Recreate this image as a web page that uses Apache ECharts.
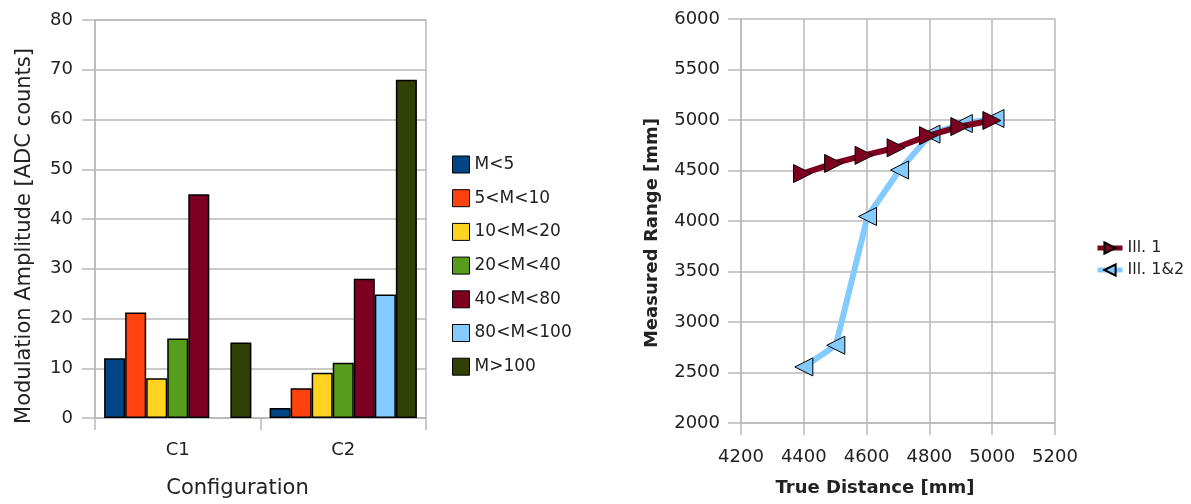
<!DOCTYPE html>
<html>
<head>
<meta charset="utf-8">
<script src="https://cdn.jsdelivr.net/npm/echarts@6/dist/echarts.min.js"></script>
<style>
html,body{margin:0;padding:0;background:#fff;}
#chart{width:1191px;height:504px;}
</style>
</head>
<body>
<div id="chart"></div>
<script>
// ---- Left chart data ----
const categories = ['C1', 'C2'];
const binNames = ['M<5', '5<M<10', '10<M<20', '20<M<40', '40<M<80', '80<M<100', 'M>100'];
const binColors = ['#004586', '#ff420e', '#ffd320', '#579d1c', '#7e0021', '#83caff', '#314004'];
const valsMlt5 = [12, 2];
const vals5to10 = [21.2, 6];
const vals10to20 = [8, 9.1];
const vals20to40 = [16, 11.1];
const vals40to80 = [45, 28];
const vals80to100 = [null, 24.8];
const valsMgt100 = [15.2, 68];
const binValues = [valsMlt5, vals5to10, vals10to20, vals20to40, vals40to80, vals80to100, valsMgt100];

// ---- Right chart data ----
const lineNames = ['Ill. 1', 'Ill. 1&2'];
const lineColors = ['#7e0021', '#83caff'];
const trueDistIll1 = [4396, 4495, 4592, 4694, 4797, 4897, 4999];
const measuredIll1 = [4470, 4570, 4650, 4725, 4845, 4935, 4995];
const trueDistIll12 = [4400, 4502, 4603, 4705, 4805, 4908, 5009];
const measuredIll12 = [2555, 2770, 4045, 4505, 4860, 4965, 5015];

const FONT = 'DejaVu Sans';
const gridColor = '#b9b9b9';
const textColor = '#222';
const plain = v => String(v);

const chart = echarts.init(document.getElementById('chart'), null, {renderer: 'canvas'});

const barSeries = binNames.map((name, i) => ({
  name: name,
  type: 'bar',
  xAxisIndex: 0,
  yAxisIndex: 0,
  barGap: '0%',
  barCategoryGap: '11%',
  itemStyle: {color: binColors[i], borderColor: '#000', borderWidth: 1.5},
  data: binValues[i]
}));

const zip = (xs, ys) => xs.map((x, i) => [x, ys[i]]);

const lineSeries = [
  {
    name: lineNames[0], type: 'line', xAxisIndex: 1, yAxisIndex: 1, z: 4,
    data: zip(trueDistIll1, measuredIll1),
    symbol: 'triangle', symbolSize: 18, symbolRotate: -90,
    lineStyle: {color: lineColors[0], width: 6},
    itemStyle: {color: lineColors[0], borderColor: '#000', borderWidth: 1},
    animation: false
  },
  {
    name: lineNames[1], type: 'line', xAxisIndex: 1, yAxisIndex: 1, z: 3,
    data: zip(trueDistIll12, measuredIll12),
    symbol: 'triangle', symbolSize: 18, symbolRotate: 90,
    lineStyle: {color: lineColors[1], width: 6},
    itemStyle: {color: lineColors[1], borderColor: '#000', borderWidth: 1},
    animation: false
  }
];

const option = {
  animation: false,
  backgroundColor: '#fff',
  textStyle: {fontFamily: FONT, color: textColor},
  grid: [
    {left: 95, right: 1191 - 426, top: 20, bottom: 504 - 418, show: true, borderColor: gridColor, borderWidth: 1.5},
    {left: 741, right: 1191 - 1055, top: 19, bottom: 504 - 423}
  ],
  legend: [
    {
      data: binNames, orient: 'vertical', left: 447, top: 150.5,
      itemWidth: 17, itemHeight: 17, itemGap: 15.7,
      icon: 'rect',
      itemStyle: {borderColor: '#000', borderWidth: 1},
      textStyle: {fontFamily: FONT, fontSize: 17, color: textColor, lineHeight: 17}
    },
    {
      data: lineNames, orient: 'vertical', left: 1090, top: 235,
      itemWidth: 25, itemHeight: 14, itemGap: 6,
      lineStyle: {width: 5},
      textStyle: {fontFamily: FONT, fontSize: 16, color: textColor, lineHeight: 16}
    }
  ],
  xAxis: [
    {
      type: 'category', gridIndex: 0, data: categories,
      axisLine: {show: true, lineStyle: {color: gridColor, width: 1.5}},
      axisTick: {show: true, length: 12, lineStyle: {color: gridColor, width: 1.5}},
      axisLabel: {fontFamily: FONT, fontSize: 18, color: textColor, margin: 23},
      splitLine: {show: false},
      name: 'Configuration', nameLocation: 'middle', nameGap: 60,
      nameTextStyle: {fontFamily: FONT, fontSize: 21, color: textColor, padding: [0, 46, 0, 0]}
    },
    {
      type: 'value', gridIndex: 1, min: 4200, max: 5200, interval: 200,
      axisLine: {show: true, lineStyle: {color: gridColor, width: 1.5}},
      axisTick: {show: true, length: 12, lineStyle: {color: gridColor, width: 1.5}},
      axisLabel: {fontFamily: FONT, fontSize: 18, color: textColor, margin: 25, formatter: plain},
      splitLine: {show: true, lineStyle: {color: gridColor, width: 1.5}},
      name: 'True Distance [mm]', nameLocation: 'middle', nameGap: 56,
      nameTextStyle: {fontFamily: FONT, fontSize: 18, fontWeight: 'bold', color: textColor, padding: [0, 46, 0, 0]}
    }
  ],
  yAxis: [
    {
      type: 'value', gridIndex: 0, min: 0, max: 80, interval: 10,
      axisLine: {show: true, lineStyle: {color: gridColor, width: 1.5}},
      axisTick: {show: true, length: 13, lineStyle: {color: gridColor, width: 1.5}},
      axisLabel: {fontFamily: FONT, fontSize: 18, color: textColor, margin: 22, formatter: plain},
      splitLine: {show: true, lineStyle: {color: gridColor, width: 1.5}},
      name: 'Modulation Amplitude [ADC counts]', nameLocation: 'middle', nameGap: 60, nameRotate: 90,
      nameTextStyle: {fontFamily: FONT, fontSize: 21, color: textColor, padding: [0, 34, 0, 0]}
    },
    {
      type: 'value', gridIndex: 1, min: 2000, max: 6000, interval: 500,
      axisLine: {show: true, lineStyle: {color: gridColor, width: 1.5}},
      axisTick: {show: true, length: 13, lineStyle: {color: gridColor, width: 1.5}},
      axisLabel: {fontFamily: FONT, fontSize: 18, color: textColor, margin: 21, formatter: plain},
      splitLine: {show: true, lineStyle: {color: gridColor, width: 1.5}},
      name: 'Measured Range [mm]', nameLocation: 'middle', nameGap: 80, nameRotate: 90,
      nameTextStyle: {fontFamily: FONT, fontSize: 18, fontWeight: 'bold', color: textColor, padding: [0, 24, 0, 0]}
    }
  ],
  series: barSeries.concat(lineSeries)
};

chart.setOption(option);
</script>
</body>
</html>
